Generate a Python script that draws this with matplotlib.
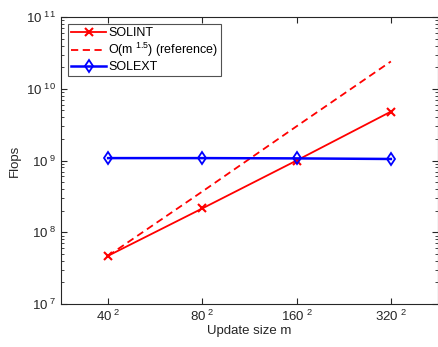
import matplotlib.pyplot as plt
import numpy as np

plt.rcParams['font.family'] = ['Liberation Sans', 'DejaVu Sans']
plt.rcParams['mathtext.fontset'] = 'custom'
plt.rcParams['mathtext.rm'] = 'Liberation Sans'

# data
side = [40, 80, 160, 320]
m = [s**2 for s in side]
solint = [4.7e7, 2.15e8, 1.0e9, 4.8e9]
ref = [4.7e7, 3.7e8, 3.0e9, 2.4e10]
solext = [1.08e9, 1.08e9, 1.07e9, 1.05e9]
xticklabels = ['40$^{\\ 2}$', '80$^{\\ 2}$', '160$^{\\ 2}$', '320$^{\\ 2}$']
yticks = [1e7, 1e8, 1e9, 1e10, 1e11]
yticklabels = ['10$^{\\ %d}$' % e for e in [7, 8, 9, 10, 11]]

fig = plt.figure(figsize=(4.39, 3.47), dpi=100)
ax = fig.add_axes([61/439, 43/347, 377/439, 287/347])

ax.plot(m, solint, color='red', lw=1.3, marker='x', ms=5.5, mew=1.5, label='SOLINT')
ax.plot(m, ref, color='red', lw=1.3, ls=(0, (4, 2.5)), label='O(m$^{\\ 1.5}$) (reference)')
ax.plot(m, solext, color='blue', lw=1.8, marker='d', ms=6, mfc='none', mew=1.3, label='SOLEXT')

ax.set_xscale('log')
ax.set_yscale('log')
ax.set_xlim(800, 204800)
ax.set_ylim(1e7, 1e11)
ax.set_xticks(m)
ax.set_xticklabels(xticklabels)
ax.xaxis.set_minor_locator(plt.NullLocator())
ax.set_yticks(yticks)
ax.set_yticklabels(yticklabels)

gray = '#262626'
for sp in ax.spines.values():
    sp.set_color(gray)
    sp.set_linewidth(0.8)
ax.tick_params(which='both', direction='in', top=True, right=True, colors=gray, labelsize=9.5)
ax.tick_params(which='major', length=4)
ax.tick_params(which='minor', length=2)

ax.set_xlabel('Update size m', fontsize=9.5, color=gray, labelpad=1)
ax.set_ylabel('Flops', fontsize=9.5, color=gray, labelpad=4)

leg = ax.legend(loc='upper left', fontsize=9, frameon=True, fancybox=False,
                edgecolor=gray, handlelength=2.8, handletextpad=0.2,
                borderpad=0.25, labelspacing=0.15, borderaxespad=0.55)
leg.get_frame().set_linewidth(0.8)

fig.savefig('out.png', dpi=100)
